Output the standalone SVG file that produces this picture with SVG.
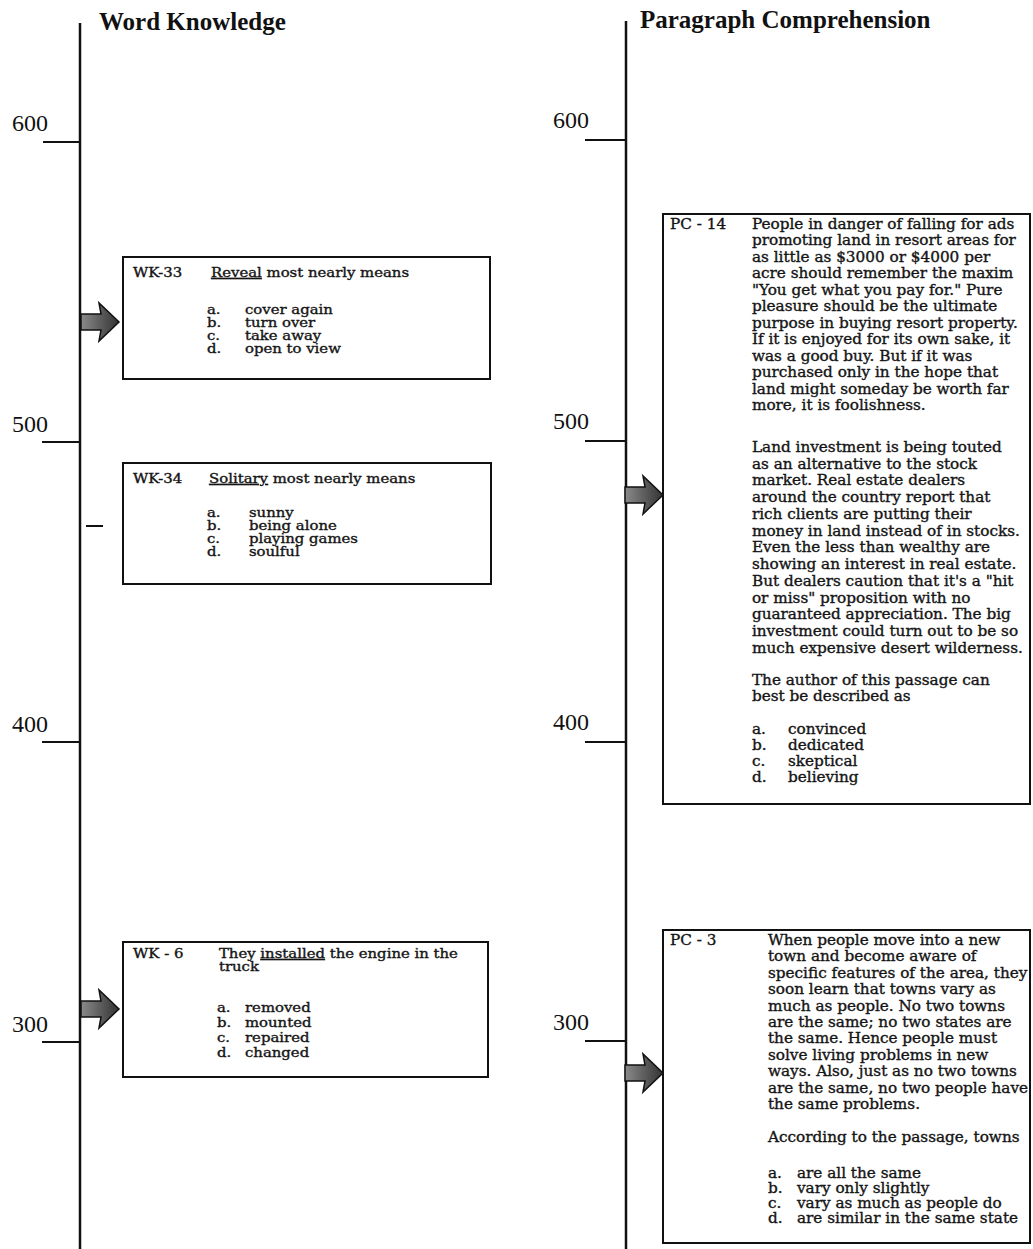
<svg xmlns="http://www.w3.org/2000/svg" width="1033" height="1249" viewBox="0 0 1033 1249">
<style>
.axis{stroke:#111;stroke-width:2.5;fill:none}
.tick{stroke:#111;stroke-width:2;fill:none}
.num{font-family:"Liberation Serif",serif;font-size:24px;fill:#111}
.title{font-family:"Liberation Serif",serif;font-size:25px;font-weight:bold;fill:#111}
.box{fill:#fff;stroke:#111;stroke-width:2}
.wk{font-family:"DejaVu Serif",serif;font-size:12px;fill:#151515;stroke:#151515;stroke-width:0.35;white-space:pre}
.pc{font-family:"DejaVu Serif",serif;font-size:14px;fill:#151515;stroke:#151515;stroke-width:0.35;white-space:pre}
</style>
<defs>
<linearGradient id="ag" x1="0" y1="0" x2="1" y2="0">
<stop offset="0" stop-color="#8a8a8a"/>
<stop offset="0.6" stop-color="#555"/>
<stop offset="1" stop-color="#333"/>
</linearGradient>
<path id="arr" d="M0,-8 L20,-8 L18,-19 L38,0 L18,19 L20,8 L0,8 Z" fill="url(#ag)" stroke="#111" stroke-width="1.5"/>
</defs>
<rect width="1033" height="1249" fill="#fff"/>

<g id="axis-left">
<line class="axis" x1="80" y1="23" x2="80" y2="1249"/>
<line class="tick" x1="43" y1="142" x2="80" y2="142"/>
<line class="tick" x1="42" y1="442" x2="80" y2="442"/>
<line class="tick" x1="42" y1="742" x2="80" y2="742"/>
<line class="tick" x1="42" y1="1042" x2="80" y2="1042"/>
<line class="tick" x1="86" y1="526" x2="103" y2="526"/>
<text class="num" x="12" y="131">600</text>
<text class="num" x="12" y="432">500</text>
<text class="num" x="12" y="732">400</text>
<text class="num" x="12" y="1032">300</text>
<text class="title" x="99" y="30">Word Knowledge</text>
</g>

<g id="axis-right">
<line class="axis" x1="626" y1="21" x2="626" y2="1249"/>
<line class="tick" x1="585" y1="140" x2="626" y2="140"/>
<line class="tick" x1="585" y1="441" x2="626" y2="441"/>
<line class="tick" x1="585" y1="742" x2="626" y2="742"/>
<line class="tick" x1="585" y1="1041" x2="626" y2="1041"/>
<text class="num" x="553" y="128">600</text>
<text class="num" x="553" y="429">500</text>
<text class="num" x="553" y="730">400</text>
<text class="num" x="553" y="1030">300</text>
<text class="title" x="640" y="28">Paragraph Comprehension</text>
</g>

<g id="connectors">
<use href="#arr" transform="translate(81,322)"/>
<use href="#arr" transform="translate(81,1009)"/>
<use href="#arr" transform="translate(625,495)"/>
<use href="#arr" transform="translate(625,1073)"/>
</g>

<g id="wk33">
<rect class="box" x="123" y="257" width="367" height="122"/>
<g class="wk" xml:space="preserve" transform="translate(123 0) scale(1.24 1) translate(-123 0)">
<text x="131.1" y="277">WK-33</text>
<text x="194" y="277"><tspan text-decoration="underline">Reveal</tspan> most nearly means</text>
<text x="190.7" y="314">a.</text><text x="221.4" y="314">cover again</text>
<text x="190.7" y="327">b.</text><text x="221.4" y="327">turn over</text>
<text x="190.7" y="340">c.</text><text x="221.4" y="340">take away</text>
<text x="190.7" y="353">d.</text><text x="221.4" y="353">open to view</text>
</g>
</g>

<g id="wk34">
<rect class="box" x="123" y="463" width="368" height="121"/>
<g class="wk" xml:space="preserve" transform="translate(123 0) scale(1.24 1) translate(-123 0)">
<text x="131.1" y="483">WK-34</text>
<text x="192.4" y="483"><tspan text-decoration="underline">Solitary</tspan> most nearly means</text>
<text x="190.7" y="517">a.</text><text x="224.6" y="517">sunny</text>
<text x="190.7" y="530">b.</text><text x="224.6" y="530">being alone</text>
<text x="190.7" y="543">c.</text><text x="224.6" y="543">playing games</text>
<text x="190.7" y="556">d.</text><text x="224.6" y="556">soulful</text>
</g>
</g>

<g id="wk6">
<rect class="box" x="123" y="942" width="365" height="135"/>
<g class="wk" xml:space="preserve" transform="translate(123 0) scale(1.24 1) translate(-123 0)">
<text x="131.1" y="958">WK - 6</text>
<text x="200.4" y="958">They <tspan text-decoration="underline">installed</tspan> the engine in the</text>
<text x="200.4" y="971.5">truck</text>
<text x="198.8" y="1012">a.</text><text x="221.4" y="1012">removed</text>
<text x="198.8" y="1027">b.</text><text x="221.4" y="1027">mounted</text>
<text x="198.8" y="1042">c.</text><text x="221.4" y="1042">repaired</text>
<text x="198.8" y="1057">d.</text><text x="221.4" y="1057">changed</text>
</g>
</g>

<g id="pc14">
<rect class="box" x="663" y="214" width="367" height="590"/>
<g class="pc" xml:space="preserve" transform="translate(663 0) scale(1.09 1) translate(-663 0)">
<text x="669.4" y="229">PC - 14</text>
<text x="744.6" y="229">People in danger of falling for ads</text>
<text x="744.6" y="245.5">promoting land in resort areas for</text>
<text x="744.6" y="262">as little as $3000 or $4000 per</text>
<text x="744.6" y="278.5">acre should remember the maxim</text>
<text x="744.6" y="295">"You get what you pay for." Pure</text>
<text x="744.6" y="311.5">pleasure should be the ultimate</text>
<text x="744.6" y="328">purpose in buying resort property.</text>
<text x="744.6" y="344.5">If it is enjoyed for its own sake, it</text>
<text x="744.6" y="361">was a good buy.  But if it was</text>
<text x="744.6" y="377.5">purchased only in the hope that</text>
<text x="744.6" y="394">land might someday be worth far</text>
<text x="744.6" y="410.5">more, it is foolishness.</text>
<text x="744.6" y="452">Land investment is being touted</text>
<text x="744.6" y="468.75">as an alternative to the stock</text>
<text x="744.6" y="485.5">market.  Real estate dealers</text>
<text x="744.6" y="502.25">around the country report that</text>
<text x="744.6" y="519">rich clients are putting their</text>
<text x="744.6" y="535.75">money in land instead of in stocks.</text>
<text x="744.6" y="552.5">Even the less than wealthy are</text>
<text x="744.6" y="569.25">showing an interest in real estate.</text>
<text x="744.6" y="586">But dealers caution that it's a "hit</text>
<text x="744.6" y="602.75">or miss" proposition with no</text>
<text x="744.6" y="619.5">guaranteed appreciation.  The big</text>
<text x="744.6" y="636.25">investment could turn out to be so</text>
<text x="744.6" y="653">much expensive desert wilderness.</text>
<text x="744.6" y="685">The author of this passage can</text>
<text x="744.6" y="701">best be described as</text>
<text x="744.6" y="734">a.</text><text x="777.7" y="734">convinced</text>
<text x="744.6" y="750">b.</text><text x="777.7" y="750">dedicated</text>
<text x="744.6" y="766">c.</text><text x="777.7" y="766">skeptical</text>
<text x="744.6" y="782">d.</text><text x="777.7" y="782">believing</text>
</g>
</g>

<g id="pc3">
<rect class="box" x="663" y="930" width="367" height="313"/>
<g class="pc" xml:space="preserve" transform="translate(663 0) scale(1.09 1) translate(-663 0)">
<text x="669.4" y="945">PC - 3</text>
<text x="759.3" y="945">When people move into a new</text>
<text x="759.3" y="961.4">town and become aware of</text>
<text x="759.3" y="977.8">specific features of the area, they</text>
<text x="759.3" y="994.2">soon learn that towns vary as</text>
<text x="759.3" y="1010.6">much as people.  No two towns</text>
<text x="759.3" y="1027">are the same; no two states are</text>
<text x="759.3" y="1043.4">the same.  Hence people must</text>
<text x="759.3" y="1059.8">solve living problems in new</text>
<text x="759.3" y="1076.2">ways.  Also, just as no two towns</text>
<text x="759.3" y="1092.6">are the same, no two people have</text>
<text x="759.3" y="1109">the same problems.</text>
<text x="759.3" y="1142">According to the passage, towns</text>
<text x="759.3" y="1178">a.</text><text x="785.9" y="1178">are all the same</text>
<text x="759.3" y="1193">b.</text><text x="785.9" y="1193">vary only slightly</text>
<text x="759.3" y="1208">c.</text><text x="785.9" y="1208">vary as much as people do</text>
<text x="759.3" y="1223">d.</text><text x="785.9" y="1223">are similar in the same state</text>
</g>
</g>
</svg>
